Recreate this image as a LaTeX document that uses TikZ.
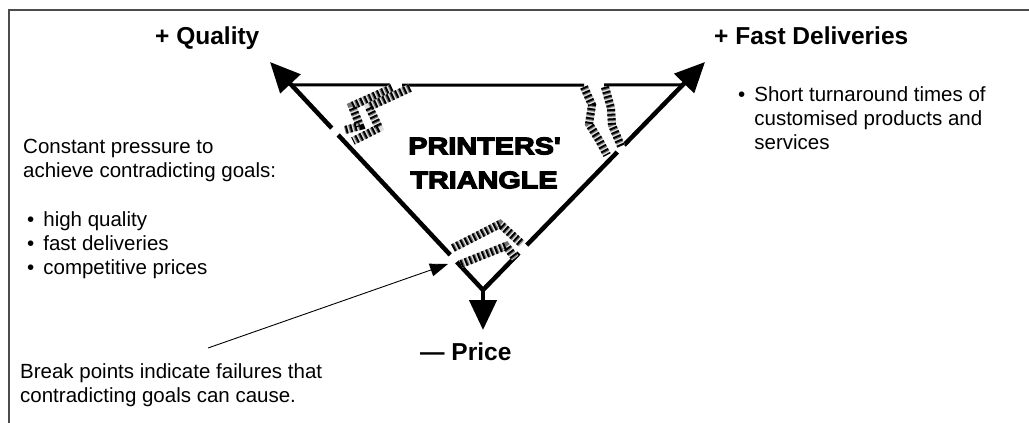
\documentclass[tikz,border=0pt]{standalone}
\usepackage{fontspec}
\setmainfont{Liberation Sans}
\newfontfamily\heavyfont[FakeBold=5,FakeStretch=1.2]{Liberation Sans Bold}
\usetikzlibrary{arrows.meta, calc}
\newcommand{\bul}{\hspace*{4pt}\textbullet\hspace{9pt}}
\newcommand{\bulgap}{\hphantom{\hspace*{4pt}\textbullet\hspace{9pt}}}

\begin{document}
\begin{tikzpicture}[
  x = 1pt, y = -1pt,
  every node/.style = {font=\fontsize{20.5}{24}\selectfont, inner sep=0pt},
  goal/.style  = {font=\fontsize{24.5}{29}\selectfont\bfseries, anchor=base west},
  note/.style  = {align=left, anchor=north west},
  title/.style = {font=\heavyfont\fontsize{24}{34}\selectfont, align=center},
  side/.style  = {line width=4.5pt},
  arr/.style   = {side, -{Triangle[length=30pt, width=27pt]}},
  rim/.style   = {line width=3pt},
  crack/.style = {line width=8pt, draw=black!12,
                  postaction={draw=black!55, line width=8pt, dash pattern=on 3pt off 1.6pt},
                  postaction={draw=black, line width=8pt, dash pattern=on 1.8pt off 2.8pt}},
  ptr/.style   = {line width=0.9pt, -{Triangle[length=18pt, width=13pt]}}
]
\useasboundingbox (0,0) rectangle (1029,423);

% ---- frame (open at right and bottom) ---------------------------------
\draw[line width=1.2pt, draw=black!70] (9,423) -- (9,10) -- (1029,10);

% ---- triangle -----------------------------------------------------------
\coordinate (bot)  at (483,290);
\coordinate (qtip) at (270,62);
\coordinate (ftip) at (705,62);
\coordinate (ptip) at (483,330);
\coordinate (tl) at ($(bot)!0.9!(qtip)$);
\coordinate (tr) at ($(bot)!0.9!(ftip)$);

\draw[rim] (tl) -- (390,85) (402,85) -- (584,85) (604,85) -- (tr);
\draw[side] ($(bot)!0.123!(qtip)$) -- (bot) -- ($(bot)!0.162!(ftip)$);
\draw[side] ($(bot)!0.154!(qtip)$) -- ($(bot)!0.68!(qtip)$);
\draw[side] ($(bot)!0.197!(ftip)$) -- ($(bot)!0.605!(ftip)$);
\draw[arr] ($(bot)!0.71!(qtip)$) -- (qtip);
\draw[arr] ($(bot)!0.636!(ftip)$) -- (ftip);
\draw[arr] (bot) -- (ptip);

% ---- break points -------------------------------------------------------
\draw[crack] (392,88) -- (352,106) -- (360,126) -- (345,130);
\draw[crack] (410,88) -- (369,107) -- (379,128) -- (353,141);
\draw[crack] (584,87) -- (592,105) -- (589,124) -- (599,140) -- (607,155);
\draw[crack] (605,87) -- (611,108) -- (612,125) -- (621,146);
\draw[crack] (453,248) -- (500,224) -- (522,244);
\draw[crack] (461,264) -- (506,246) -- (515,258);

\node[title] (name) at (484,163) {PRINTERS\textquotesingle\\TRIANGLE};

% ---- goals --------------------------------------------------------------
\node[goal] (qual)  at (155,44)  {+ Quality};
\node[goal] (fast)  at (714,44)  {+ Fast Deliveries};
\node[goal] (price) at (420,360) {— Price};

% ---- notes --------------------------------------------------------------
\node[note] (press) at (23,139) {Constant pressure to\\achieve contradicting goals:};
\node[note] (goals) at (23,211) {\bul high quality\\\bul fast deliveries\\\bul competitive prices};
\node[note] (turn)  at (734,86) {\bul Short turnaround times of\\\bulgap customised products and\\\bulgap services};
\node[note] (brk)   at (20,363) {Break points indicate failures that\\contradicting goals can cause.};

\coordinate (ptrtail) at (208,348);
\coordinate (ptrhead) at (448,264);
\draw[ptr] (ptrtail) -- (ptrhead);

\end{tikzpicture}
\end{document}
